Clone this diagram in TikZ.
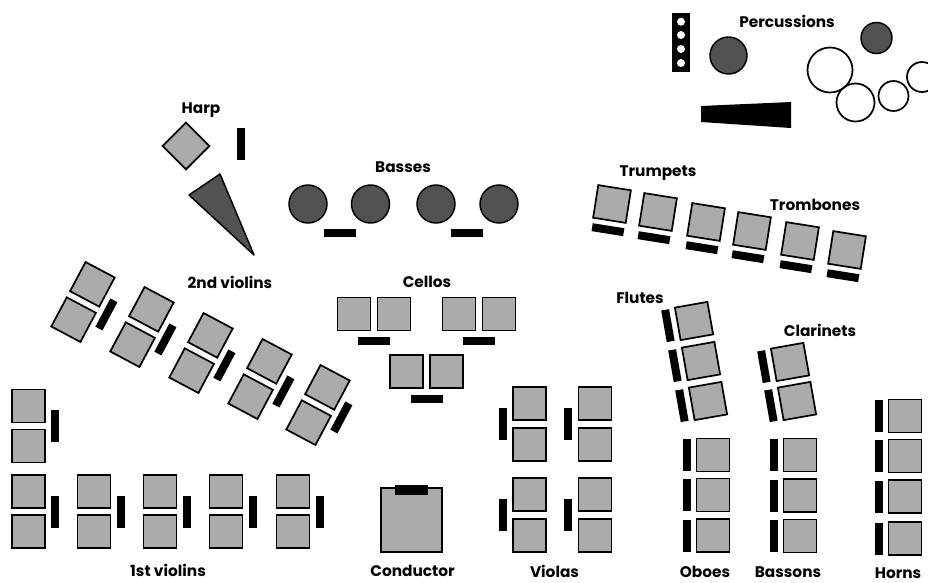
\documentclass[tikz,border=0pt]{standalone}
\usepackage{fontspec}
\setmainfont{Poppins}
\begin{document}
\begin{tikzpicture}[x=0.75pt,y=-0.75pt,
  seatfill/.style={fill=black!33,draw=black,line width=1.3pt},
  darkfill/.style={fill=black!68,draw=black,line width=1.1pt},
  lbl/.style={font=\fontsize{11.5}{13}\selectfont\bfseries,inner sep=0pt,anchor=base},
  seat/.pic={\filldraw[seatfill] (-16.5,-16.5) rectangle (16.5,16.5);},
  vstand/.pic={\fill[black] (-4,-16) rectangle (4,16);},
  hstand/.pic={\fill[black] (-16,-4) rectangle (16,4);},
  vpairR/.pic={\filldraw[seatfill] (-16.5,-36.5) rectangle (16.5,-3.5);
               \filldraw[seatfill] (-16.5,3.5) rectangle (16.5,36.5);
               \fill[black] (22.5,-16) rectangle (30.5,16);},
  vpairL/.pic={\filldraw[seatfill] (-16.5,-36.75) rectangle (16.5,-3.75);
               \filldraw[seatfill] (-16.5,3.75) rectangle (16.5,36.75);
               \fill[black] (-31,-16) rectangle (-23,16);},
  hpair/.pic={\filldraw[seatfill] (-36.5,-16.5) rectangle (-3.5,16.5);
              \filldraw[seatfill] (3.5,-16.5) rectangle (36.5,16.5);
              \fill[black] (-16,23) rectangle (16,31);},
  seatB/.pic={\filldraw[seatfill] (-16.5,-16.5) rectangle (16.5,16.5);
              \fill[black] (-16,22) rectangle (16,30);},
  seatL/.pic={\filldraw[seatfill] (-16.5,-16.5) rectangle (16.5,16.5);
              \fill[black] (-30.5,-16) rectangle (-22.5,16);}
]
\useasboundingbox (0,0) rectangle (928,582);
\clip (0,0) rectangle (928,582);

% ---------- Harp ----------
\node[lbl] (harp) at (201,113) {Harp};
\pic[rotate=45] at (186,146) {seat};
\pic at (240.5,143.5) {vstand};
\filldraw[darkfill,line join=round] (189,195) -- (220,174) -- (254,255) -- cycle;

% ---------- Basses ----------
\node[lbl] (basses) at (403,172) {Basses};
\foreach \bx in {308,370.5,436,499} \filldraw[darkfill] (\bx,204) circle (19);
\pic at (339.5,233) {hstand};
\pic at (467,233) {hstand};

% ---------- 2nd violins ----------
\node[lbl] (secondv) at (230,288) {2nd violins};
\foreach \px/\py in {83/302,142/327,201/353,260/379,318/405}
  \pic[rotate=-28] at (\px,\py) {vpairR};

% ---------- 1st violins ----------
\node[lbl] (firstv) at (168,576) {1st violins};
\pic at (28.5,426) {vpairR};
\foreach \px in {28.5,94,160,226,293}
  \pic at (\px,511.5) {vpairR};

% ---------- Cellos ----------
\node[lbl] (cellos) at (427,287) {Cellos};
\pic at (374,314) {hpair};
\pic at (479,314) {hpair};
\pic at (426.5,371.5) {hpair};

% ---------- Conductor ----------
\filldraw[seatfill] (381,488) rectangle (442,552);
\fill[black] (395,485) rectangle (428,495);
\node[lbl] (conductor) at (412.5,576) {Conductor};

% ---------- Violas ----------
\node[lbl] (violas) at (554.5,577) {Violas};
\foreach \px/\py in {529.5/424,529.5/515,595/424,595/515}
  \pic at (\px,\py) {vpairL};

% ---------- Percussions ----------
\node[lbl] (perc) at (787,27) {Percussions};
\fill[black] (672,13) rectangle (690,72);
\foreach \hy in {21.7,35,49,63} \fill[white] (681,\hy) circle (4);
\filldraw[darkfill] (728.5,55.5) circle (18.5);
\filldraw[darkfill] (876.5,38) circle (15.5);
\draw[line width=1.3pt] (830,70) circle (22.5);
\draw[line width=1.3pt] (855.5,102.5) circle (19);
\draw[line width=1.3pt] (893.5,96) circle (15);
\draw[line width=1.3pt] (922,77) circle (15);
\fill[black] (701,106) -- (791,102) -- (791,128) -- (701,122) -- cycle;

% ---------- Trumpets / Trombones ----------
\node[lbl] (trumpets) at (658,176) {Trumpets};
\node[lbl] (trombones) at (815,210) {Trombones};
\foreach \px/\py in {612/204,658/212,706/222,752/231,800/241,847/250}
  \pic[rotate=-9] at (\px,\py) {seatB};

% ---------- Flutes ----------
\node[lbl] (flutes) at (640,303) {Flutes};
\foreach \px/\py in {694/321,701/361,708/401}
  \pic[rotate=10] at (\px,\py) {seatL};

% ---------- Clarinets ----------
\node[lbl] (clarinets) at (820,336) {Clarinets};
\foreach \px/\py in {790/362,797/401}
  \pic[rotate=10] at (\px,\py) {seatL};

% ---------- Oboes ----------
\node[lbl] (oboes) at (705,577) {Oboes};
\foreach \py in {455,495,535.5} \pic at (713,\py) {seatL};

% ---------- Bassons ----------
\node[lbl] (bassons) at (788,577) {Bassons};
\foreach \py in {455,495.5,536} \pic at (800,\py) {seatL};

% ---------- Horns ----------
\node[lbl] (horns) at (898,578) {Horns};
\foreach \py in {416,456,496.5,538.5} \pic at (905,\py) {seatL};
\end{tikzpicture}
\end{document}
